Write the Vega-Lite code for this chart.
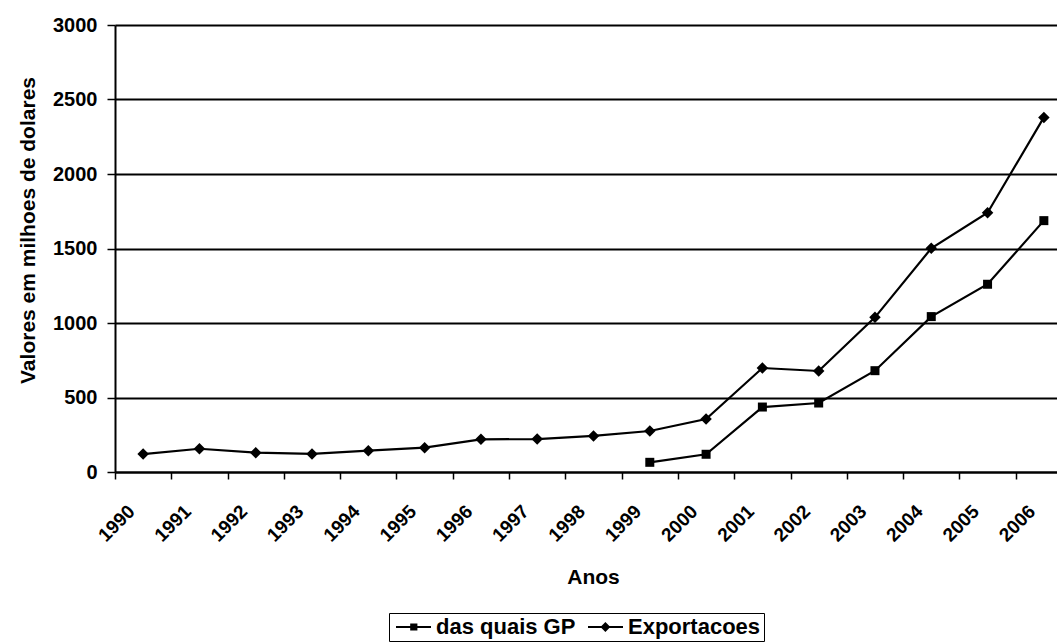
{
  "$schema": "https://vega.github.io/schema/vega-lite/v6.json",
  "width": 942,
  "height": 447,
  "autosize": {"type": "none"},
  "padding": {"left": 115, "top": 25, "right": 0, "bottom": 172},
  "background": "white",
  "config": {"view": {"stroke": null}, "font": "Liberation Sans"},
  "data": {
    "values": [
      {"ano": "1990", "serie": "Exportacoes", "valor": 120},
      {"ano": "1991", "serie": "Exportacoes", "valor": 156},
      {"ano": "1992", "serie": "Exportacoes", "valor": 130},
      {"ano": "1993", "serie": "Exportacoes", "valor": 121},
      {"ano": "1994", "serie": "Exportacoes", "valor": 143},
      {"ano": "1995", "serie": "Exportacoes", "valor": 163},
      {"ano": "1996", "serie": "Exportacoes", "valor": 219},
      {"ano": "1997", "serie": "Exportacoes", "valor": 221},
      {"ano": "1998", "serie": "Exportacoes", "valor": 242},
      {"ano": "1999", "serie": "Exportacoes", "valor": 275},
      {"ano": "2000", "serie": "Exportacoes", "valor": 356},
      {"ano": "2001", "serie": "Exportacoes", "valor": 698},
      {"ano": "2002", "serie": "Exportacoes", "valor": 678},
      {"ano": "2003", "serie": "Exportacoes", "valor": 1038},
      {"ano": "2004", "serie": "Exportacoes", "valor": 1501},
      {"ano": "2005", "serie": "Exportacoes", "valor": 1740},
      {"ano": "2006", "serie": "Exportacoes", "valor": 2380},
      {"ano": "1999", "serie": "das quais GP", "valor": 65},
      {"ano": "2000", "serie": "das quais GP", "valor": 119},
      {"ano": "2001", "serie": "das quais GP", "valor": 436},
      {"ano": "2002", "serie": "das quais GP", "valor": 463},
      {"ano": "2003", "serie": "das quais GP", "valor": 680},
      {"ano": "2004", "serie": "das quais GP", "valor": 1043},
      {"ano": "2005", "serie": "das quais GP", "valor": 1260},
      {"ano": "2006", "serie": "das quais GP", "valor": 1687}
    ]
  },
  "encoding": {
    "x": {
      "field": "ano",
      "type": "ordinal",
      "bandPosition": 0.5,
      "scale": {"type": "band", "range": [0, 957], "paddingInner": 0, "paddingOuter": 0},
      "axis": {
        "title": "Anos",
        "titleFontSize": 21,
        "titleFontWeight": "bold",
        "titleColor": "black",
        "titleX": 478,
        "titleY": 111,
        "titleBaseline": "alphabetic",
        "titleAlign": "center",
        "labelAngle": -45,
        "labelAlign": "right",
        "labelBaseline": "middle",
        "labelFontSize": 19,
        "labelFontWeight": "bold",
        "labelColor": "black",
        "labelPadding": 29,
        "labelOffset": -12,
        "labelOverlap": false,
        "tickBand": "extent",
        "tickSize": 7,
        "tickColor": "black",
        "tickWidth": 1.5,
        "domainColor": "black",
        "domainWidth": 2,
        "grid": false
      }
    },
    "y": {
      "field": "valor",
      "type": "quantitative",
      "scale": {"domain": [0, 3000], "nice": false},
      "axis": {
        "values": [0, 500, 1000, 1500, 2000, 2500, 3000],
        "format": "d",
        "grid": true,
        "gridColor": "black",
        "gridWidth": 1.8,
        "gridOpacity": 1,
        "domainColor": "black",
        "domainWidth": 2,
        "tickColor": "black",
        "tickSize": 8,
        "tickWidth": 1.5,
        "labelFontSize": 20,
        "labelFontWeight": "bold",
        "labelColor": "black",
        "labelPadding": 10,
        "title": "Valores em milhoes de dolares",
        "titleFontSize": 21,
        "titleFontWeight": "bold",
        "titleColor": "black",
        "titleAngle": -90,
        "titleX": -81,
        "titleY": 205,
        "titleAlign": "center",
        "titleBaseline": "alphabetic"
      }
    }
  },
  "layer": [
    {
      "mark": {"type": "line", "color": "black", "strokeWidth": 2.2},
      "encoding": {"detail": {"field": "serie"}}
    },
    {
      "transform": [{"filter": "datum.serie === 'das quais GP'"}],
      "mark": {"type": "point", "filled": true, "color": "black", "opacity": 1, "size": 100, "shape": "M-0.9,-0.9H0.9V0.9H-0.9Z"}
    },
    {
      "transform": [{"filter": "datum.serie === 'Exportacoes'"}],
      "mark": {"type": "point", "filled": true, "color": "black", "opacity": 1, "size": 100, "shape": "M-1.15,0L0,-1.15L1.15,0L0,1.15Z"}
    },
    {
      "transform": [{"filter": "datum.valor < 0"}],
      "mark": {"type": "point", "filled": true, "color": "black", "opacity": 1},
      "encoding": {
        "shape": {
          "field": "serie",
          "type": "nominal",
          "scale": {
            "domain": ["das quais GP", "Exportacoes"],
            "range": [
              "M-0.875,-0.13H3.5V0.13H-0.875ZM0.9,-0.45H1.8V0.45H0.9Z",
              "M-0.875,-0.13H3.5V0.13H-0.875ZM1.3,-0.62L1.92,0L1.3,0.62L0.68,0Z"
            ]
          },
          "legend": {
            "title": null,
            "orient": "none",
            "legendX": 274,
            "legendY": 588,
            "direction": "horizontal",
            "strokeColor": "black",
            "padding": 3,
            "columnPadding": 8,
            "symbolSize": 256,
            "symbolFillColor": "black",
            "symbolOpacity": 1,
            "labelFontSize": 22,
            "labelFontWeight": "bold",
            "labelColor": "black",
            "labelOffset": 22,
            "labelLimit": 400
          }
        }
      }
    }
  ]
}
